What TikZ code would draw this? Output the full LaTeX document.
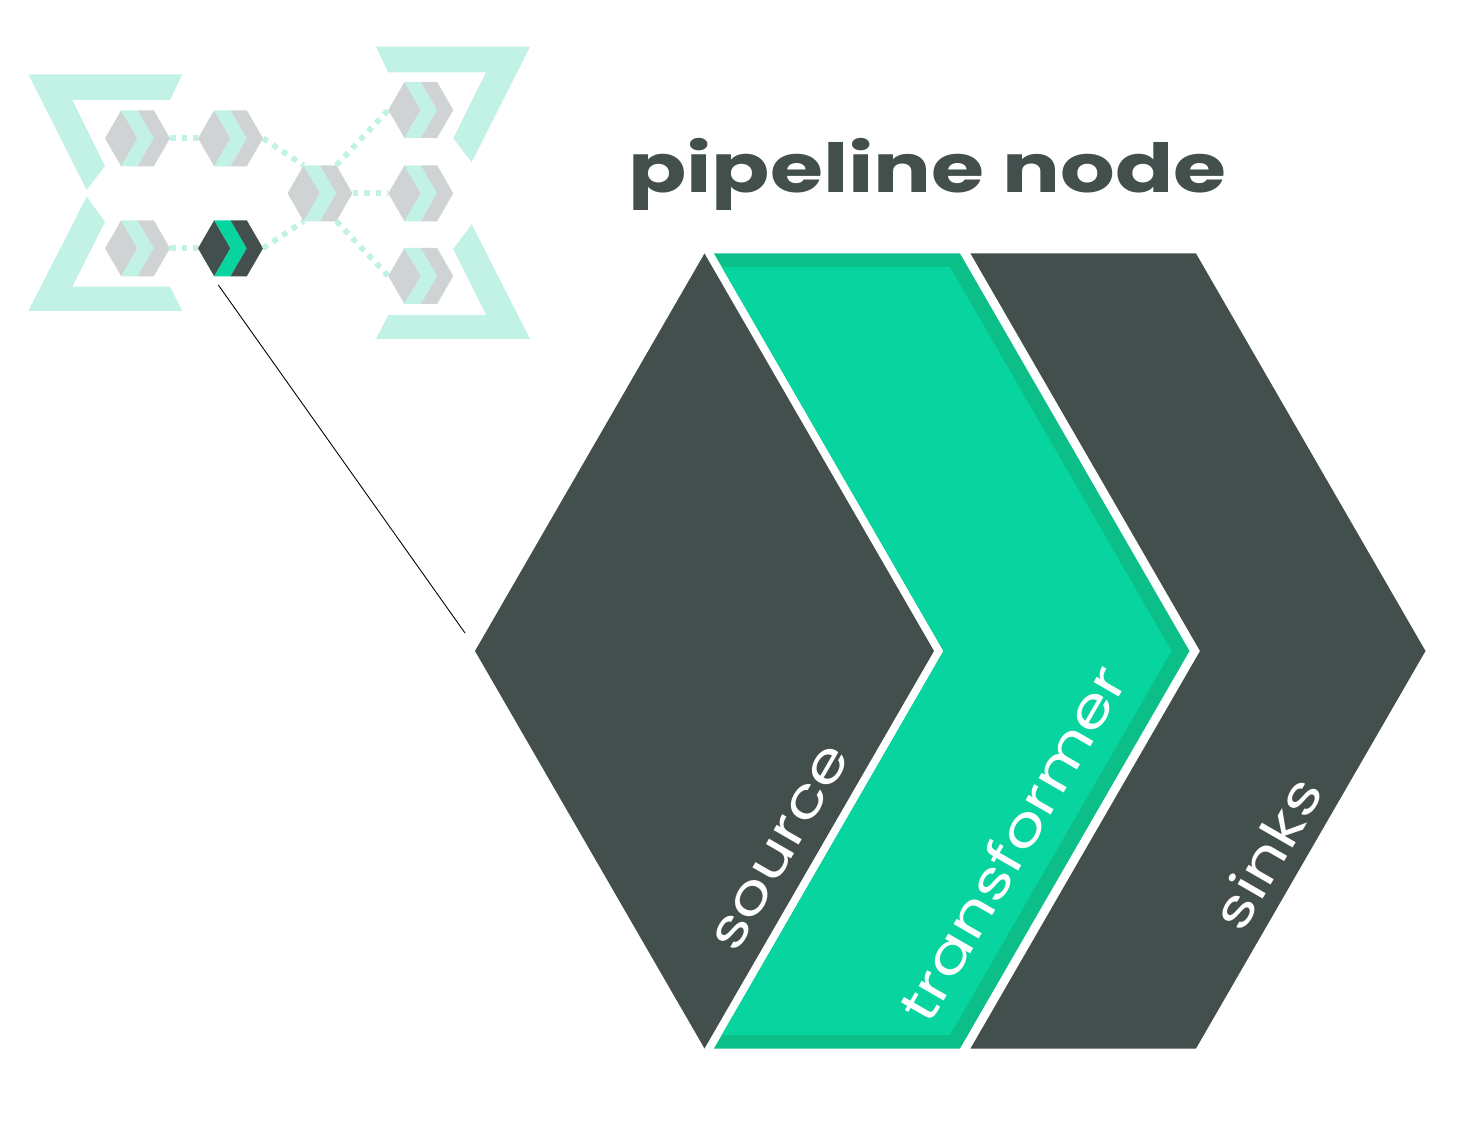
\documentclass[tikz,border=0pt]{standalone}
\usepackage{fontspec}
\setmainfont{Poppins}
\definecolor{ink}{HTML}{424F4C}
\definecolor{leaf}{HTML}{07D49F}
\definecolor{leafdk}{HTML}{0CBF88}
\definecolor{mint}{HTML}{C1F2E5}
\definecolor{chipgray}{HTML}{CFD3D4}

% small hexagon: name, x, y, side colour, strip colour
\newcommand\chip[5]{%
  \begin{scope}[shift={(#2,#3)}]
    \coordinate (#1) at (0,0);
    \coordinate (#1-w) at (-32.5,0); \coordinate (#1-e) at (32.5,0);
    \coordinate (#1-nw) at (-16.3,-28); \coordinate (#1-ne) at (16.3,-28);
    \coordinate (#1-sw) at (-16.3,28); \coordinate (#1-se) at (16.3,28);
    \fill[#4] (#1-w)--(#1-nw)--(0,0)--(#1-sw)--cycle;
    \fill[#5] (#1-nw)--(0,-28)--(16.3,0)--(0,28)--(#1-sw)--(0,0)--cycle;
    \fill[#4] (0,-28)--(#1-ne)--(#1-e)--(#1-se)--(0,28)--(16.3,0)--cycle;
  \end{scope}}

\begin{document}
\begin{tikzpicture}[x=0.02cm,y=-0.02cm,
  linkdots/.style={mint,line width=3.2pt,dash pattern=on 3.2pt off 3.4pt},
  lbl/.style={text=white,font=\fontsize{30}{30}\selectfont,xscale=1.28,inner sep=0pt}]
  \useasboundingbox (0,0) rectangle (1468,1128);
  % brackets
  \fill[mint] (28.3,74.3)--(182.3,74.3)--(170,100)--(72.3,100)--(105,166)--(86.7,190)--cycle;
  \fill[mint] (86.7,196.7)--(105,221.7)--(72.3,286.7)--(170,286.7)--(182.3,311)--(28.3,311)--cycle;
  \fill[mint] (376,46.7)--(530,46.7)--(471.7,162.3)--(453.3,138.3)--(486,72.3)--(388.3,72.3)--cycle;
  \fill[mint] (471.7,224.3)--(530,339)--(376,339)--(388.3,315)--(486,315)--(453.3,249)--cycle;
  % chips
  \chip{a}{137.5}{138.3}{chipgray}{mint}
  \chip{b}{230.5}{138.3}{chipgray}{mint}
  \chip{c}{137.5}{248.3}{chipgray}{mint}
  \chip{d}{230.5}{248.3}{ink}{leaf}
  \chip{e}{320}{193.3}{chipgray}{mint}
  \chip{f}{420.8}{110}{chipgray}{mint}
  \chip{g}{420.8}{193.3}{chipgray}{mint}
  \chip{h}{420.8}{276}{chipgray}{mint}
  \draw[linkdots] (a-e)--(b-w);
  \draw[linkdots] (c-e)--(d-w);
  \draw[linkdots] (b-e)--(e-nw);
  \draw[linkdots] (d-e)--(e-sw);
  \draw[linkdots] (e-ne)--(f-w);
  \draw[linkdots] (e-e)--(g-w);
  \draw[linkdots] (e-se)--(h-w);
  % zoom line
  \coordinate (lnA) at (218.3,285); \coordinate (lnB) at (465,633);
  \draw[black,line width=0.5pt] (lnA)--(lnB);
  % big node
  \fill[ink] (475,651)--(704.5,253.5)--(934,651)--(704.5,1048.5)--cycle;
  \fill[leafdk] (714,253.5)--(960,253.5)--(1189.5,651)--(960,1048.5)--(714,1048.5)--(943.5,651)--cycle;
  \fill[leaf] (721.8,267)--(949.9,267)--(1171.5,651)--(949.9,1035)--(721.8,1035)--(943.5,651)--cycle;
  \fill[ink] (970.5,253.5)--(1196,253.5)--(1425.5,651)--(1196,1048.5)--(970.5,1048.5)--(1200,651)--cycle;
  \node[font=\bfseries\fontsize{38.5}{40}\selectfont,text=ink,xscale=1.27,anchor=base] (title) at (927.5,193) {pipeline node};
  \node[rotate=60,lbl] (src) at (781,848) {source};
  \node[rotate=60,lbl] (tfm) at (1012,843) {transformer};
  \node[rotate=60,lbl] (snk) at (1267,853) {sinks};
\end{tikzpicture}
\end{document}
